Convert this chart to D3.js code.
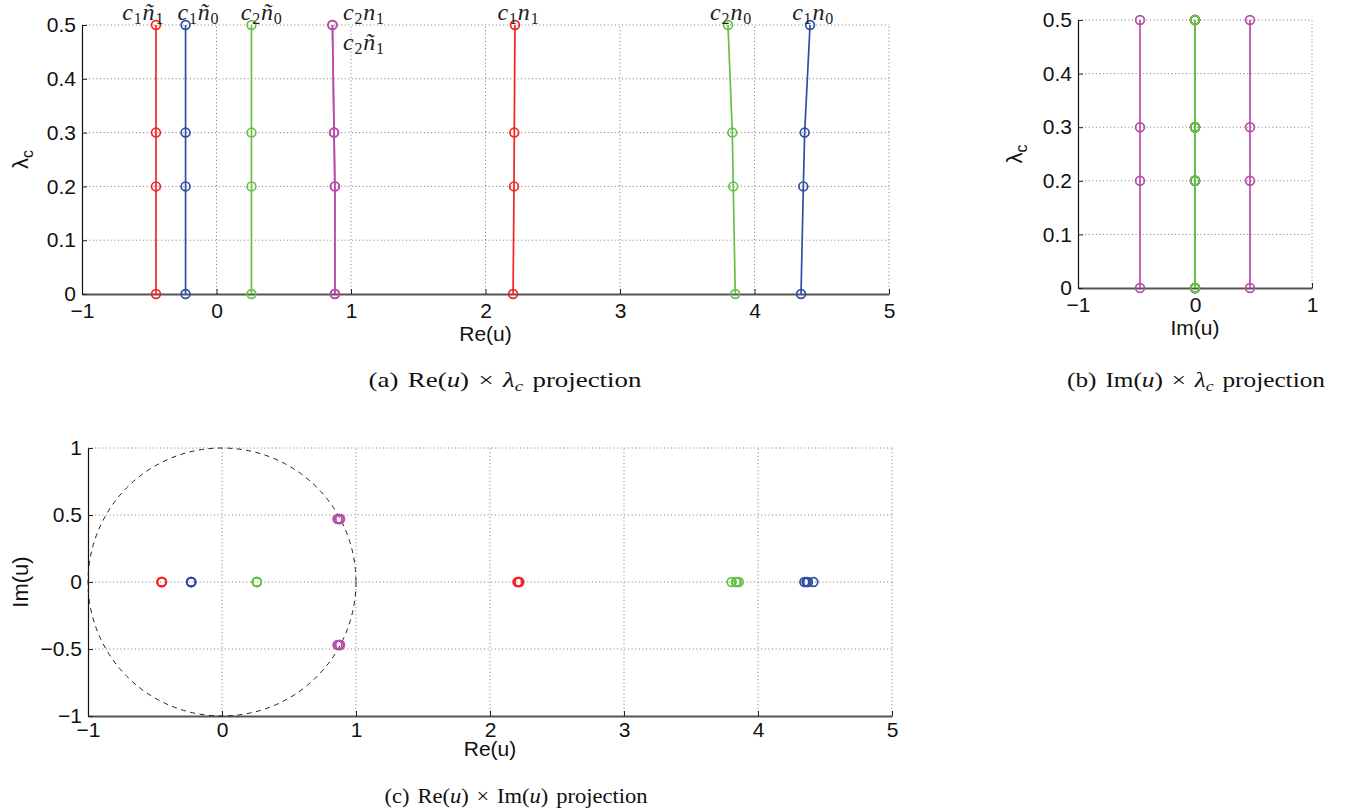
<!DOCTYPE html>
<html>
<head>
<meta charset="utf-8">
<script src="https://cdn.jsdelivr.net/npm/d3@7"></script>
<style>
  body { margin: 0; background: #fff; }
</style>
</head>
<body>
<div id="fig"></div>
<script>

// coupling values where the roots were computed
const lambdaC = [0, 0.2, 0.3, 0.5];

// real parts of the roots
const reC1nt1 = [-0.45, -0.45, -0.45, -0.45];
const reC1nt0 = [-0.23, -0.23, -0.23, -0.23];
const reC2nt0 = [0.26, 0.26, 0.26, 0.26];
const reC2n1  = [0.88, 0.88, 0.874, 0.862];
const reC2nt1 = [0.88, 0.88, 0.874, 0.862];
const reC1n1  = [2.205, 2.212, 2.214, 2.219];
const reC2n0  = [3.857, 3.842, 3.835, 3.803];
const reC1n0  = [4.346, 4.363, 4.373, 4.413];

// imaginary parts of the roots
const imReal  = [0, 0, 0, 0];
const imC2n1  = [0.47, 0.47, 0.47, 0.47];
const imC2nt1 = [-0.47, -0.47, -0.47, -0.47];

// roots, in plotting order
const roots = [
  {name: 'c1ñ1', family: 'red',     re: reC1nt1, im: imReal},
  {name: 'c1n1', family: 'red',     re: reC1n1,  im: imReal},
  {name: 'c1ñ0', family: 'blue',    re: reC1nt0, im: imReal},
  {name: 'c1n0', family: 'blue',    re: reC1n0,  im: imReal},
  {name: 'c2ñ0', family: 'green',   re: reC2nt0, im: imReal},
  {name: 'c2n0', family: 'green',   re: reC2n0,  im: imReal},
  {name: 'c2n1', family: 'magenta', re: reC2n1,  im: imC2n1},
  {name: 'c2ñ1', family: 'magenta', re: reC2nt1, im: imC2nt1}
];

// text annotations of panel (a), in data coordinates (Re, lambda)
const rootLabels = [
  {parts: ['c', '1', 'ñ', '1'], x: -0.70, y: 0.51},
  {parts: ['c', '1', 'ñ', '0'], x: -0.29, y: 0.51},
  {parts: ['c', '2', 'ñ', '0'], x: 0.18,  y: 0.51},
  {parts: ['c', '2', 'n', '1'], x: 0.94,  y: 0.51},
  {parts: ['c', '2', 'ñ', '1'], x: 0.94,  y: 0.453},
  {parts: ['c', '1', 'n', '1'], x: 2.09,  y: 0.51},
  {parts: ['c', '2', 'n', '0'], x: 3.67,  y: 0.51},
  {parts: ['c', '1', 'n', '0'], x: 4.28,  y: 0.51}
];

// tick values
const ticksRe     = [-1, 0, 1, 2, 3, 4, 5];
const ticksLambda = [0, 0.1, 0.2, 0.3, 0.4, 0.5];
const ticksImX    = [-1, 0, 1];
const ticksImY    = [-1, -0.5, 0, 0.5, 1];

// colours
const colors = {red: '#f42424', blue: '#2e4ea3', green: '#68c046', magenta: '#b94ca9'};
const sansFont = 'Liberation Sans, Arial, sans-serif';
const serifFont = 'Liberation Serif, Times New Roman, serif';

const svg = d3.select('#fig').append('svg')
  .attr('width', 1349)
  .attr('height', 812)
  .style('background', '#fff');

const fmt = v => (v < 0 ? '\u2212' : '') + Math.abs(v);

// tspans with optional italic / subscript parts
function richText(sel, parts, subSize, subShift) {
  let shift = 0;
  parts.forEach(p => {
    const ts = sel.append('tspan').text(p.t);
    if (p.i) ts.attr('font-style', 'italic');
    const target = p.sub ? subShift : 0;
    if (target !== shift) {
      ts.attr('dy', target - shift);
      shift = target;
    }
    if (p.sub) ts.attr('font-size', subSize);
  });
}

// Axes with dotted grid, box off, ticks pointing in
function panel(cfg) {
  const x = d3.scaleLinear().domain(cfg.xDomain).range([cfg.left, cfg.right]);
  const y = d3.scaleLinear().domain(cfg.yDomain).range([cfg.bottom, cfg.top]);
  const g = svg.append('g');

  const grid = g.append('g')
    .attr('stroke', '#7a7a7a')
    .attr('stroke-width', 1)
    .attr('stroke-dasharray', '1,2.6');
  grid.selectAll('.gx')
    .data(cfg.xTicks.slice(1))
    .join('line')
    .attr('x1', d => x(d)).attr('x2', d => x(d))
    .attr('y1', cfg.bottom).attr('y2', cfg.top);
  grid.selectAll('.gy')
    .data(cfg.yTicks.slice(1))
    .join('line')
    .attr('y1', d => y(d)).attr('y2', d => y(d))
    .attr('x1', cfg.left).attr('x2', cfg.right);

  const xAxis = g.append('g')
    .attr('transform', `translate(0,${cfg.bottom})`)
    .call(d3.axisBottom(x).tickValues(cfg.xTicks).tickFormat(fmt)
      .tickSizeInner(-5).tickSizeOuter(0).tickPadding(cfg.xPad));
  const yAxis = g.append('g')
    .attr('transform', `translate(${cfg.left},0)`)
    .call(d3.axisLeft(y).tickValues(cfg.yTicks).tickFormat(fmt)
      .tickSizeInner(-5).tickSizeOuter(0).tickPadding(6));

  [xAxis, yAxis].forEach(a => {
    a.selectAll('text')
      .attr('font-family', sansFont)
      .attr('font-size', 21)
      .attr('fill', '#111');
    a.selectAll('.tick line').attr('stroke', '#222').attr('stroke-width', 1);
  });
  xAxis.select('.domain').attr('stroke', '#555').attr('stroke-width', 1.8);
  yAxis.select('.domain').attr('stroke', '#111').attr('stroke-width', 1.2);

  // x label
  g.append('text')
    .attr('x', (cfg.left + cfg.right) / 2)
    .attr('y', cfg.bottom + cfg.xLabelDy)
    .attr('text-anchor', 'middle')
    .attr('font-family', sansFont)
    .attr('font-size', 21)
    .attr('fill', '#111')
    .text(cfg.xLabel);

  // y label
  const yl = g.append('text')
    .attr('transform', `translate(${cfg.yLabelX},${(cfg.top + cfg.bottom) / 2}) rotate(-90)`)
    .attr('text-anchor', 'middle')
    .attr('font-family', sansFont)
    .attr('font-size', 22)
    .attr('fill', '#111');
  richText(yl, cfg.yLabel, 16, 5);

  // caption, stretched to the width it has in the figure
  const cap = g.append('text')
    .attr('text-anchor', 'middle')
    .attr('font-family', serifFont)
    .attr('font-size', 20)
    .attr('word-spacing', 2)
    .attr('fill', '#111');
  richText(cap, cfg.caption, 14, 4);
  const sx = cfg.captionW / cap.node().getComputedTextLength();
  cap.attr('transform', `translate(${cfg.captionX},${cfg.bottom + cfg.captionDy}) scale(${sx},1)`);

  return {x, y, g};
}

const lambdaLabel = [{t: 'λ'}, {t: 'c', sub: true}];

// ---------- (a) Re(u) x lambda ----------
const pa = panel({
  left: 82, right: 889, top: 25, bottom: 294,
  xDomain: [-1, 5], yDomain: [0, 0.5],
  xTicks: ticksRe, yTicks: ticksLambda,
  xPad: 9, xLabelDy: 47, yLabelX: 28,
  captionX: 505, captionDy: 93, captionW: 273,
  xLabel: 'Re(u)', yLabel: lambdaLabel,
  caption: [{t: '(a) Re('}, {t: 'u', i: true}, {t: ') × '}, {t: 'λ', i: true},
            {t: 'c', i: true, sub: true}, {t: ' projection'}]
});

// ---------- (b) Im(u) x lambda ----------
const pb = panel({
  left: 1078, right: 1312, top: 20, bottom: 288,
  xDomain: [-1, 1], yDomain: [0, 0.5],
  xTicks: ticksImX, yTicks: ticksLambda,
  xPad: 9, xLabelDy: 47, yLabelX: 1022,
  captionX: 1196, captionDy: 99, captionW: 258,
  xLabel: 'Im(u)', yLabel: lambdaLabel,
  caption: [{t: '(b) Im('}, {t: 'u', i: true}, {t: ') × '}, {t: 'λ', i: true},
            {t: 'c', i: true, sub: true}, {t: ' projection'}]
});

// ---------- (c) Re(u) x Im(u) ----------
const pc = panel({
  left: 88, right: 892, top: 448, bottom: 716,
  xDomain: [-1, 5], yDomain: [-1, 1],
  xTicks: ticksRe, yTicks: ticksImY,
  xPad: 6, xLabelDy: 40, yLabelX: 28,
  captionX: 516, captionDy: 87, captionW: 263,
  xLabel: 'Re(u)', yLabel: [{t: 'Im(u)'}],
  caption: [{t: '(c) Re('}, {t: 'u', i: true}, {t: ') × Im('}, {t: 'u', i: true},
            {t: ') projection'}]
});

// unit circle in (c)
pc.g.append('ellipse')
  .attr('cx', pc.x(0)).attr('cy', pc.y(0))
  .attr('rx', pc.x(1) - pc.x(0)).attr('ry', pc.y(0) - pc.y(1))
  .attr('fill', 'none')
  .attr('stroke', '#222')
  .attr('stroke-width', 1)
  .attr('stroke-dasharray', '5,4.5');

// root traces
function trace(p, r, xs, ys, withLine) {
  const col = colors[r.family];
  const pts = xs.map((v, i) => [p.x(v), p.y(ys[i])]);
  if (withLine) {
    p.g.append('path')
      .attr('d', d3.line()(pts))
      .attr('fill', 'none')
      .attr('stroke', col)
      .attr('stroke-width', 1.7);
  }
  p.g.append('g').selectAll('circle')
    .data(pts)
    .join('circle')
    .attr('cx', d => d[0]).attr('cy', d => d[1])
    .attr('r', 4.4)
    .attr('fill', 'none')
    .attr('stroke', col)
    .attr('stroke-width', 1.7);
}

roots.forEach(r => {
  trace(pa, r, r.re, lambdaC, true);
  trace(pb, r, r.im, lambdaC, true);
  trace(pc, r, r.re, r.im, false);
});

// root names in (a)
rootLabels.forEach(l => {
  const t = pa.g.append('text')
    .attr('x', pa.x(l.x))
    .attr('y', pa.y(l.y))
    .attr('font-family', serifFont)
    .attr('font-size', 24)
    .attr('letter-spacing', 0.8)
    .attr('fill', '#222');
  richText(t, [{t: l.parts[0], i: true}, {t: l.parts[1], sub: true},
               {t: l.parts[2], i: true}, {t: l.parts[3], sub: true}], 16, 4);
});

</script>
</body>
</html>
